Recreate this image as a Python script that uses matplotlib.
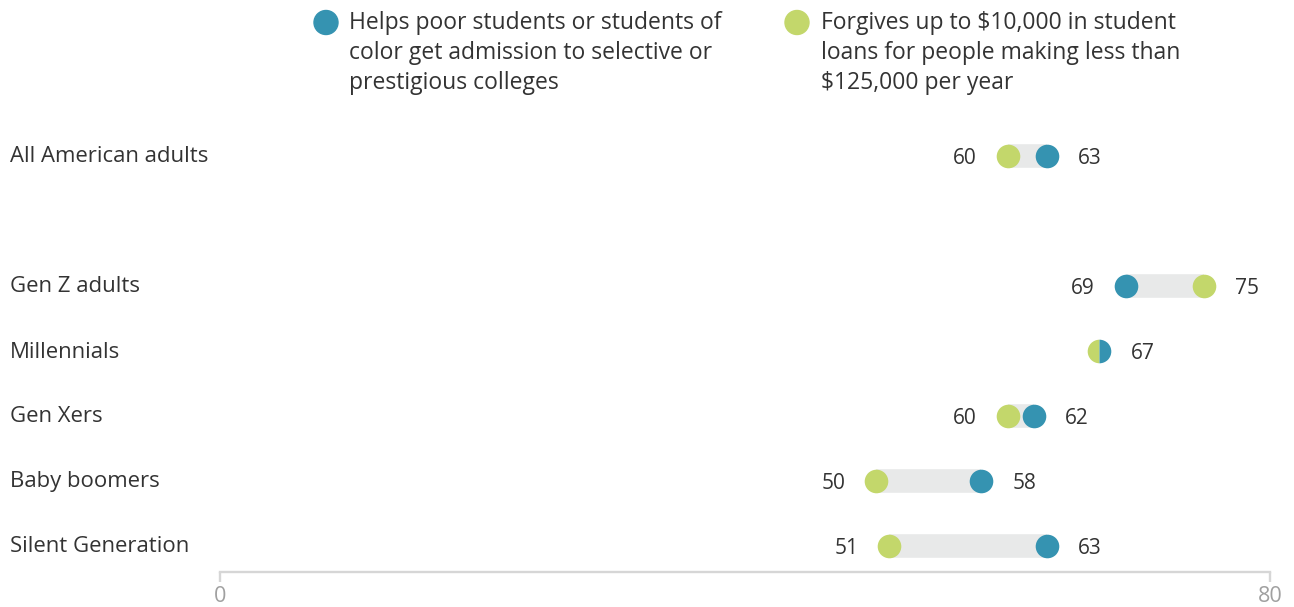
import matplotlib
matplotlib.use("Agg")
import matplotlib.pyplot as plt
from matplotlib.patches import Ellipse

categories = ["All American adults", "Gen Z adults", "Millennials", "Gen Xers",
              "Baby boomers", "Silent Generation"]
helps = [63, 69, 67, 62, 58, 63]
forgives = [60, 75, 67, 60, 50, 51]
legend_labels = [
    ["Helps poor students or students of", "color get admission to selective or",
     "prestigious colleges"],
    ["Forgives up to $10,000 in student", "loans for people making less than",
     "$125,000 per year"],
]
xticks = [0, 80]

BLUE = "#3593b1"
GREEN = "#c3d76b"
BAR = "#e8e9e9"
TEXT = "#333333"
AXGRAY = "#d6d6d6"
TICKTXT = "#a0a0a0"

plt.rcParams["font.family"] = ["Open Sans", "DejaVu Sans"]

W, H = 1294, 607
fig = plt.figure(figsize=(W / 100, H / 100), dpi=100)

top_px, bot_px = 130, 572
left_px, right_px = 220, 1270
ax = fig.add_axes([left_px / W, 1 - bot_px / H, (right_px - left_px) / W, (bot_px - top_px) / H])

row_y = [0, 2, 3, 4, 5, 6]
row0_px = 155.5
row_h = 65.0
ax.set_ylim((bot_px - row0_px) / row_h, (top_px - row0_px) / row_h)
ax.set_xlim(0, 80)

fs_lab = 15.9
fs_num = 15.0
fs_leg = 16.5
fs_tick = 15.6
ms = 17
pt = 72 / 100  # points per pixel
for y, b, g, cat in zip(row_y, helps, forgives, categories):
    lo, hi = min(b, g), max(b, g)
    if hi > lo:
        ax.plot([lo, hi], [y, y], color=BAR, lw=ms, solid_capstyle="butt", zorder=1)
        ax.plot([g], [y], "o", color=GREEN, ms=ms, mew=0, zorder=2)
        ax.plot([b], [y], "o", color=BLUE, ms=ms, mew=0, zorder=2)
        ax.annotate(str(lo), (lo, y), xytext=(-31 * pt, -8.8 * pt), textcoords="offset points",
                    ha="right", va="baseline", fontsize=fs_num, color=TEXT)
    else:
        ax.plot([b], [y], "o", ms=ms, mew=0, fillstyle="left",
                markerfacecolor=GREEN, markerfacecoloralt=BLUE, zorder=2)
    ax.annotate(str(hi), (hi, y), xytext=(31 * pt, -8.8 * pt), textcoords="offset points",
                ha="left", va="baseline", fontsize=fs_num, color=TEXT)
    fig.text(10 / W, 1 - (row0_px + row_h * y + 7) / H, cat, ha="left", va="baseline",
             fontsize=fs_lab, color=TEXT)

for s in ["top", "right", "left"]:
    ax.spines[s].set_visible(False)
ax.spines["bottom"].set_color(AXGRAY)
ax.spines["bottom"].set_linewidth(1.7)
ax.set_yticks([])
ax.set_xticks(xticks)
ax.set_xticklabels([str(t) for t in xticks])
ax.tick_params(axis="x", colors=AXGRAY, length=7, width=1.7, pad=3,
               labelsize=fs_tick, labelcolor=TICKTXT)

# legend
leg_items = [(326, 349, BLUE, legend_labels[0]), (797, 821, GREEN, legend_labels[1])]
for (cx, tx, col, lines) in leg_items:
    fig.add_artist(Ellipse((cx / W, 1 - 22.5 / H), 24 / W, 24 / H, color=col,
                           transform=fig.transFigure))
    for i, line in enumerate(lines):
        fig.text(tx / W, 1 - (29 + 30 * i) / H, line, ha="left", va="baseline",
                 fontsize=fs_leg, color=TEXT)

fig.savefig("out.png", dpi=100)
